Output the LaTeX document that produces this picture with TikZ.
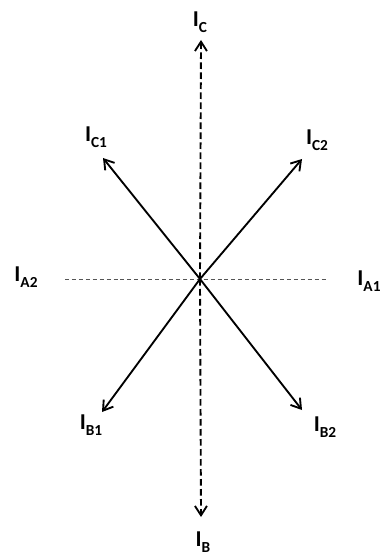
\documentclass[tikz,border=0pt]{standalone}
\usepackage{fontspec}
\setmainfont{Carlito}
\usetikzlibrary{arrows.meta}
\definecolor{axisgray}{HTML}{555555}

% phasor label: bold I with a lowered index
\newcommand{\phasorlbl}[1]{\textbf{I}{\fontsize{11.5}{11.5}\selectfont\raisebox{-0.4em}{\textbf{#1}}}}

\begin{document}
\begin{tikzpicture}[x=0.75pt, y=-0.75pt,
    phasor/.style={line width=1.4pt, -{Straight Barb[length=7pt, width=9pt, line width=1.4pt]}},
    zerophasor/.style={phasor, dash pattern=on 5pt off 2.5pt},
    refaxis/.style={draw=axisgray, line width=0.6pt, dash pattern=on 3pt off 2.2pt},
    lbl/.style={inner sep=0pt, font=\fontsize{17}{17}\selectfont}]
  \useasboundingbox (0,0) rectangle (382,559);

  \coordinate (O) at (200,279);
  \coordinate (tipC) at (201,40);
  \coordinate (tipB) at (201,517);
  \coordinate (tipC1) at (103,158);
  \coordinate (tipC2) at (302,159);
  \coordinate (tipB1) at (102,412);
  \coordinate (tipB2) at (302,410);
  \coordinate (axL) at (65,279);
  \coordinate (axR) at (328,279);

  % reference axis
  \draw[refaxis] (axL) -- (axR);

  % positive and negative sequence
  \draw[phasor] (O) -- (tipC1);
  \draw[phasor] (O) -- (tipC2);
  \draw[phasor] (O) -- (tipB1);
  \draw[phasor] (O) -- (tipB2);

  % vertical
  \draw[zerophasor] (O) -- (tipC);
  \draw[zerophasor] (O) -- (tipB);

  % labels
  \node[lbl] (lC)  at (200,22)  {\phasorlbl{C}};
  \node[lbl] (lB)  at (203,542) {\phasorlbl{B}};
  \node[lbl] (lC1) at (96,137)  {\phasorlbl{C1}};
  \node[lbl] (lC2) at (317,140) {\phasorlbl{C2}};
  \node[lbl] (lA2) at (26,277)  {\phasorlbl{A2}};
  \node[lbl] (lA1) at (369,281) {\phasorlbl{A1}};
  \node[lbl] (lB1) at (91,425)  {\phasorlbl{B1}};
  \node[lbl] (lB2) at (325,427) {\phasorlbl{B2}};
\end{tikzpicture}
\end{document}
